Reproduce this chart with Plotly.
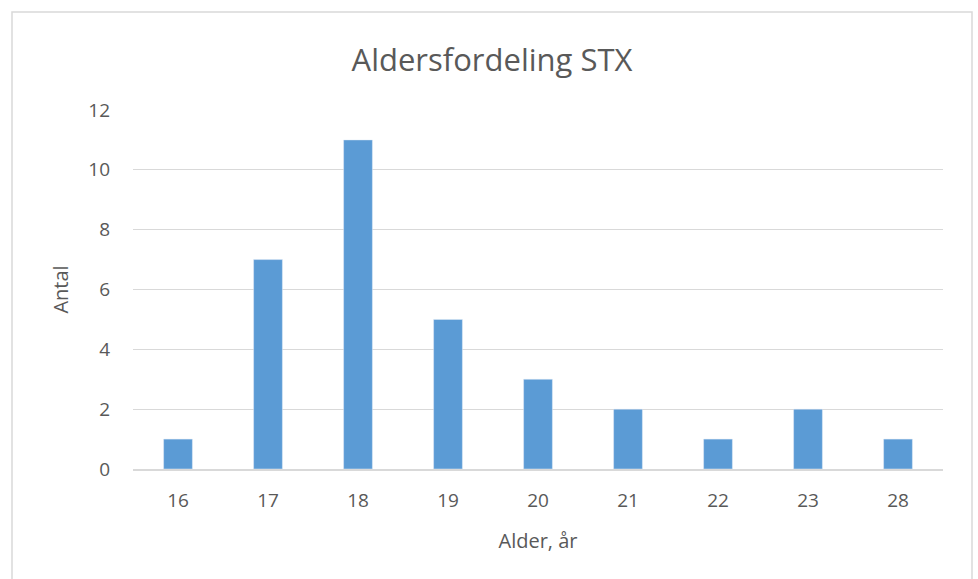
import plotly.graph_objects as go

ages = ["16", "17", "18", "19", "20", "21", "22", "23", "28"]
counts = [1, 7, 11, 5, 3, 2, 1, 2, 1]

W, H = 978, 579
ml, mr, mt, mb = 133, 35, 110, 110
pw, ph = W - ml - mr, H - mt - mb

FONT = "Open Sans, Liberation Sans, sans-serif"
GREY = "#595959"

fig = go.Figure(go.Bar(x=ages, y=counts, marker_color="#5b9bd5", width=0.32))

fig.update_layout(
    width=W, height=H,
    margin=dict(l=ml, r=mr, t=mt, b=mb),
    paper_bgcolor="white", plot_bgcolor="white",
    font=dict(family=FONT, color=GREY, size=19),
    title=dict(text="Aldersfordeling STX", x=(492 - ml) / pw, xref="paper", xanchor="center",
               y=1 - 60 / H, yanchor="middle",
               font=dict(size=31, color=GREY)),
    showlegend=False,
    xaxis=dict(type="category", showgrid=False, showline=True, linecolor="#d9d9d9", linewidth=1.5,
               ticks="", tickfont=dict(size=19, color=GREY), ticklabelstandoff=13,
               title=dict(text="Alder, år", font=dict(size=20, color=GREY), standoff=22)),
    yaxis=dict(range=[0, 12], dtick=2, showgrid=True, gridcolor="#d9d9d9", zeroline=False,
               showline=False, ticks="", tickfont=dict(size=19, color=GREY), ticklabelstandoff=22,
               title=dict(text="Antal", font=dict(size=20, color=GREY), standoff=14)),
    shapes=[dict(type="rect", xref="paper", yref="paper",
                 x0=(12 - ml) / pw, x1=(972 - ml) / pw,
                 y0=-(mb + 20) / ph, y1=1 + (mt - 12) / ph,
                 line=dict(color="#d9d9d9", width=1.5))],
)

fig.write_html("out.html", config={"displayModeBar": False},
               post_script="document.body.style.margin='0px';document.body.style.overflow='hidden';")
